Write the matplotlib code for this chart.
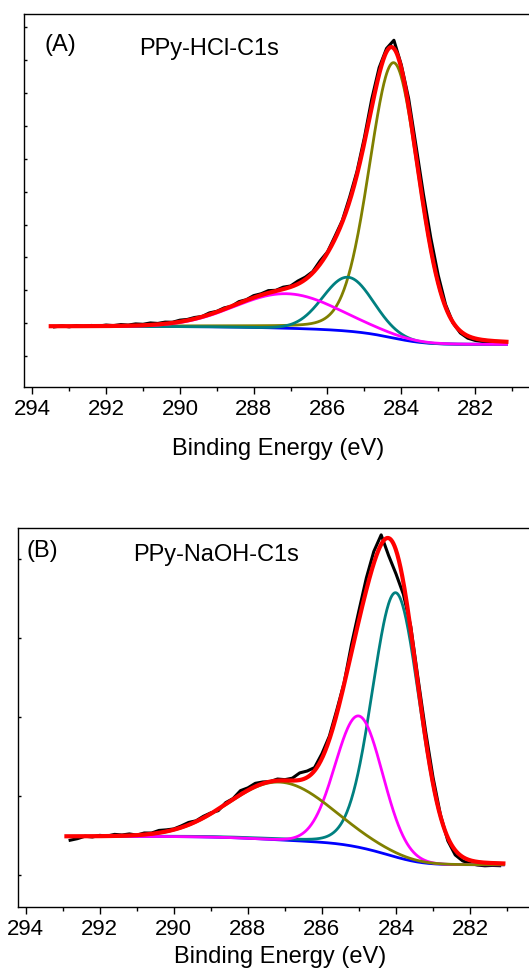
import numpy as np
import matplotlib
matplotlib.use("Agg")
import matplotlib.pyplot as plt

plt.rcParams['font.family'] = ['Liberation Sans', 'DejaVu Sans']

# ---------------- data ----------------
xticks_major = [294, 292, 290, 288, 286, 284, 282]

# Panel A: PPy-HCl-C1s  fitted components (center eV, height, FWHM, lorentz fraction)
A_names = ['olive', 'teal', 'magenta']
A_colors = ['#808000', '#008080', '#FF00FF']
A_center = [284.20, 285.44, 287.10]
A_height = [8.38, 1.64, 1.05]
A_fwhm = [1.58, 1.60, 3.30]
A_eta = [0.15, 0.0, 0.0]
A_bg_high = 0.90   # background level at high BE side
A_bg_low = 0.356   # background level at low BE side
A_range = (281.15, 293.5)
# experimental curve = envelope + residual, sampled every 0.2 eV from 281.2
A_exp_start = 281.2
A_resid = [-0.06, -0.05, -0.06, -0.05, -0.06, -0.07, -0.06, -0.02, 0.08, 0.25,
           0.35, 0.35, 0.30, 0.25, 0.10, 0.25, 0.10, 0.20, 0.25, 0.15,
           0.10, 0.12, 0.05, 0.08, 0.03, 0.10, 0.04, 0.07, 0.09, 0.03,
           0.06, 0.02, 0.07, 0.04, 0.06, 0.02, 0.05, 0.00, 0.04, 0.02,
           0.05, 0.01, 0.04, 0.03, 0.05, 0.02, 0.05, 0.03, 0.06, 0.03,
           0.05, 0.02, 0.04, 0.01, 0.03, 0.00, 0.02, -0.01, 0.02, -0.02,
           0.01, -0.02]

# Panel B: PPy-NaOH-C1s
B_names = ['teal', 'magenta', 'olive']
B_colors = ['#008080', '#FF00FF', '#808000']
B_center = [284.00, 285.00, 287.13]
B_height = [3.34, 1.66, 0.73]
B_fwhm = [1.50, 1.50, 3.24]
B_eta = [0.08, 0.0, 0.0]
B_bg_high = 0.488
B_bg_low = 0.13
B_range = (281.1, 292.9)
B_exp_start = 281.2
B_resid = [-0.03, -0.03, -0.04, -0.04, -0.04, -0.05, -0.06, -0.04, 0.02, 0.08,
           0.10, 0.08, 0.05, -0.15, -0.30, -0.22, 0.12, 0.15, 0.15, 0.12,
           0.10, 0.02, 0.05, 0.04, 0.06, 0.04, 0.08, 0.09, 0.03, 0.01,
           0.02, 0.00, 0.02, 0.04, 0.03, 0.05, 0.01, 0.02, -0.02, 0.01,
           0.02, 0.01, 0.03, 0.02, 0.01, 0.02, 0.03, 0.01, 0.02, 0.00,
           0.02, 0.01, 0.02, 0.00, 0.01, -0.01, 0.00, -0.03, -0.05]


def pv(x, c, h, w, eta):
    g = np.exp(-4 * np.log(2) * (x - c) ** 2 / w ** 2)
    lo = 1.0 / (1.0 + 4 * (x - c) ** 2 / w ** 2)
    return h * ((1 - eta) * g + eta * lo)


def model(x, centers, heights, fwhms, etas, bg_high, bg_low):
    comps = [pv(x, c, h, w, e) for c, h, w, e in zip(centers, heights, fwhms, etas)]
    total = np.sum(comps, axis=0)
    order = np.argsort(x)
    xs = x[order]
    ts = total[order]
    cum = np.concatenate([[0], np.cumsum(0.5 * (ts[1:] + ts[:-1]) * np.diff(xs))])
    frac = np.empty_like(cum)
    frac[order] = cum / cum[-1]
    bg = bg_low + (bg_high - bg_low) * frac
    return comps, bg, bg + total


def draw(ax, rng, centers, heights, fwhms, etas, colors, bg_high, bg_low,
         exp_start, resid, xlim, ylim, ticks_y):
    x = np.linspace(rng[0], rng[1], 800)
    comps, bg, env = model(x, centers, heights, fwhms, etas, bg_high, bg_low)
    xe = exp_start + 0.2 * np.arange(len(resid))
    grid = np.sort(np.concatenate([x, xe]))
    _, _, env_g = model(grid, centers, heights, fwhms, etas, bg_high, bg_low)
    env_e = np.interp(xe, grid, env_g)
    ax.plot(xe, env_e + np.array(resid), color='black', lw=2.2, zorder=2)
    ax.plot(x, bg, color='#0000FF', lw=2.0, zorder=3)
    for comp, col in zip(comps, colors):
        ax.plot(x, bg + comp, color=col, lw=2.0, zorder=4)
    ax.plot(x, env, color='#FF0000', lw=3.0, zorder=5)
    ax.set_xlim(*xlim)
    ax.set_ylim(*ylim)
    ax.set_xticks(xticks_major)
    ax.set_xticks(np.arange(281, 295, 1), minor=True)
    ax.set_yticks(ticks_y)
    ax.tick_params(axis='x', which='major', direction='out', length=5, width=1,
                   labelsize=16, pad=3.5)
    ax.tick_params(axis='x', which='minor', direction='out', length=3, width=1)
    ax.tick_params(axis='y', which='major', direction='in', length=2, width=1,
                   labelleft=False)
    for s in ax.spines.values():
        s.set_linewidth(1.0)
    ax.set_xlabel('Binding Energy (eV)', fontsize=17)


fig = plt.figure(figsize=(5.29, 9.72), dpi=100)

axA = fig.add_axes([0.04594, 0.60154, 0.97070, 0.38374])
draw(axA, A_range, A_center, A_height, A_fwhm, A_eta, A_colors, A_bg_high, A_bg_low,
     A_exp_start, A_resid, (294.217, 280.3), (-0.95, 10.40), np.arange(0, 11, 1))
axA.xaxis.set_label_coords(0.494, -0.1662)
axA.xaxis.label.set_va('center')
axA.text(0.0403, 0.9024, '(A)', transform=axA.transAxes, fontsize=17, va='baseline')
axA.text(0.2240, 0.891, 'PPy-HCl-C1s', transform=axA.transAxes, fontsize=17, va='baseline')

axB = fig.add_axes([0.03346, 0.06718, 0.97410, 0.38992])
draw(axB, B_range, B_center, B_height, B_fwhm, B_eta, B_colors, B_bg_high, B_bg_low,
     B_exp_start, B_resid, (294.216, 280.3), (-0.40, 4.39), np.arange(0, 5, 1))
axB.xaxis.set_label_coords(0.509, -0.1319)
axB.xaxis.label.set_va('center')
axB.text(0.0175, 0.922, '(B)', transform=axB.transAxes, fontsize=17, va='baseline')
axB.text(0.2243, 0.912, 'PPy-NaOH-C1s', transform=axB.transAxes, fontsize=17, va='baseline')

fig.savefig('out.png', dpi=100)
